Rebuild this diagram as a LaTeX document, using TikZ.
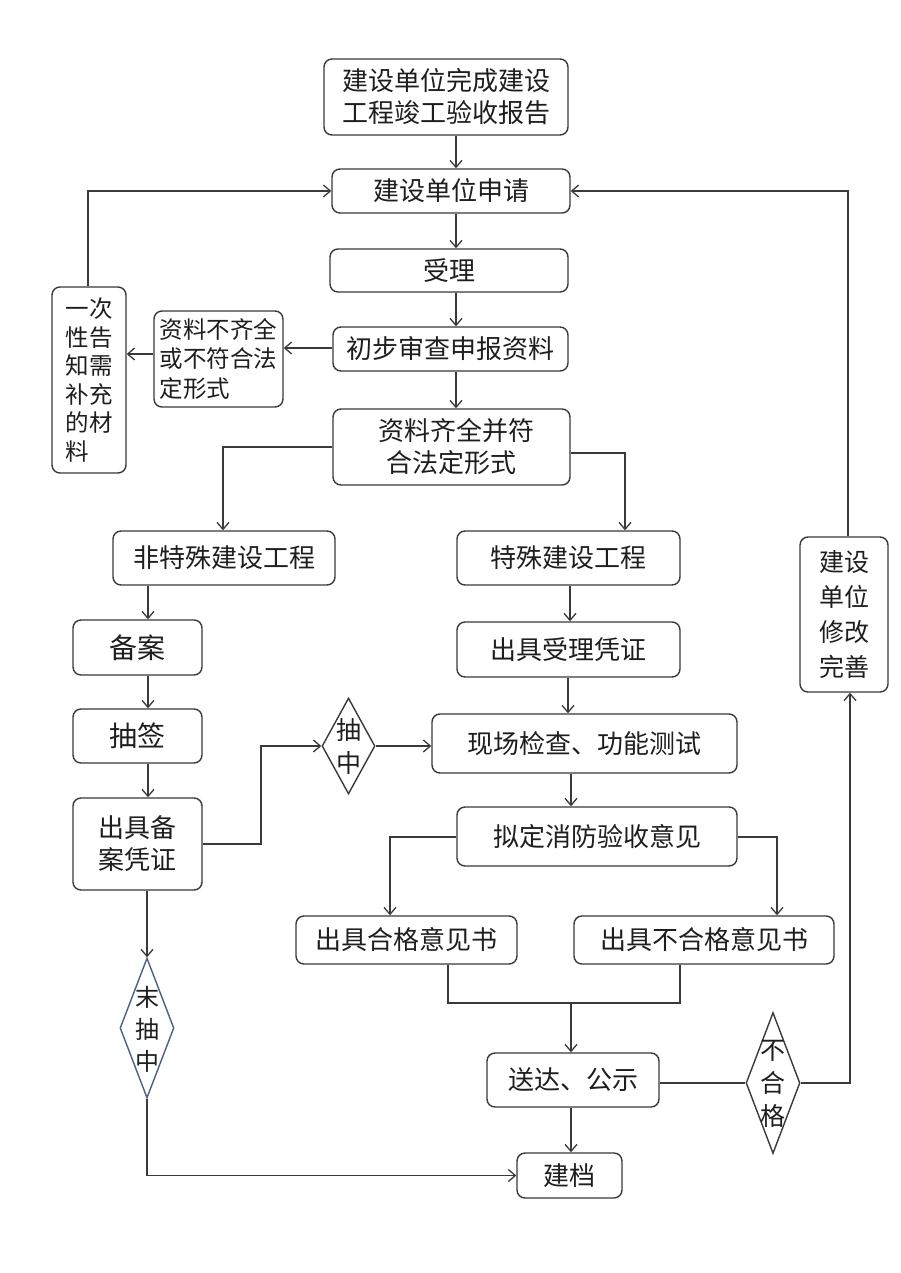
\documentclass[tikz,border=0pt]{standalone}
\usepackage{fontspec}
\newfontfamily\cjk{Noto Sans CJK SC}
\usetikzlibrary{arrows.meta,shapes.geometric}
\definecolor{linec}{HTML}{3A3A3A}
\definecolor{textc}{HTML}{1E1E1E}
\definecolor{slatec}{HTML}{4F5F7F}
\begin{document}
\begin{tikzpicture}[x=1pt,y=-1pt,
  box/.style={draw=linec, line width=1.4pt, rounded corners=8pt, inner sep=0pt,
    font=\cjk\fontsize{26}{32}\selectfont, text=textc, align=center},
  dia/.style={draw=linec, line width=1.4pt, diamond, inner sep=0pt},
  lbl/.style={inner sep=0pt, text=textc, align=center},
  conn/.style={draw=linec, line width=1.3pt},
  arr/.style={conn, -{Straight Barb[length=7pt,width=12pt,line width=1.3pt]}}]
\useasboundingbox (0,0) rectangle (900,1273);
\fill[white] (0,0) rectangle (900,1273);

% main column
\node[box, minimum width=244pt, minimum height=76pt] (top) at (446,97) {建设单位完成建设\\工程竣工验收报告};
\node[box, minimum width=238pt, minimum height=44pt] (apply) at (451,191) {建设单位申请};
\node[box, minimum width=238pt, minimum height=43pt] (accept) at (449,270.5) {受理};
\node[box, minimum width=235pt, minimum height=44pt] (review) at (450.5,349) {初步审查申报资料};
\node[box, minimum width=129pt, minimum height=96pt, align=left,
  font=\cjk\fontsize{23.5}{29.5}\selectfont] (incomplete) at (218.5,359) {资料不齐全\\或不符合法\\定形式};
\node[box, minimum width=74pt, minimum height=186pt, align=left,
  font=\cjk\fontsize{23.5}{28.5}\selectfont] (once) at (89,380) {一次\\性告\\知需\\补充\\的材\\料};
\node[box, minimum width=237pt, minimum height=76pt] (ok) at (451.5,447) {\hspace*{10pt}资料齐全并符\\合法定形式};

% left branch
\node[box, minimum width=222pt, minimum height=54pt] (nonspecial) at (224,558) {非特殊建设工程};
\node[box, minimum width=129pt, minimum height=55pt, font=\cjk\fontsize{28}{34}\selectfont] (filing) at (137.5,647.5) {备案};
\node[box, minimum width=129pt, minimum height=54pt, font=\cjk\fontsize{28}{34}\selectfont] (lottery) at (137.5,736) {抽签};
\node[box, minimum width=129pt, minimum height=92pt] (cert) at (137.5,844) {出具备\\案凭证};
\node[dia, minimum width=53pt, minimum height=96pt] (hit) at (348.5,746) {};
\node[lbl, font=\cjk\fontsize{25}{33}\selectfont] (hitt) at (hit) {抽\\中};
\node[dia, draw=slatec, minimum width=54pt, minimum height=140pt] (miss) at (147,1028) {};
\node[lbl, font=\cjk\fontsize{24}{32}\selectfont] (misst) at (147,1029) {末\\抽\\中};

% right branch
\node[box, minimum width=223pt, minimum height=54pt] (special) at (568.5,558) {特殊建设工程};
\node[box, minimum width=223pt, minimum height=55pt] (receipt) at (568.5,649.5) {出具受理凭证};
\node[box, minimum width=305pt, minimum height=59pt] (inspect) at (584.5,743.5) {现场检查、功能测试};
\node[box, minimum width=280pt, minimum height=59pt] (opinion) at (597,836.5) {拟定消防验收意见};
\node[box, minimum width=221pt, minimum height=48pt] (pass) at (406.5,940) {出具合格意见书};
\node[box, minimum width=260pt, minimum height=48pt] (fail) at (704,940) {出具不合格意见书};
\node[box, minimum width=172pt, minimum height=54pt] (deliver) at (573,1080) {送达、公示};
\node[box, minimum width=105pt, minimum height=45pt] (archive) at (569.5,1175.5) {建档};
\node[dia, minimum width=54pt, minimum height=141pt] (failD) at (773,1083) {};
\node[lbl, font=\cjk\fontsize{25}{33}\selectfont] (failDt) at (773,1084) {不\\合\\格};
\node[box, minimum width=88pt, minimum height=155pt, font=\cjk\fontsize{25}{35}\selectfont] (modify) at (844,614.5) {建设\\单位\\修改\\完善};

% connectors, main column
\draw[arr] (456,0 |- top.south) -- (456,0 |- apply.north);
\draw[arr] (456,0 |- apply.south) -- (456,0 |- accept.north);
\draw[arr] (456,0 |- accept.south) -- (456,0 |- review.north);
\draw[arr] (456,0 |- review.south) -- (456,0 |- ok.north);
\draw[arr] (review.west |- 0,348) -- (incomplete.east |- 0,348);
\draw[arr] (incomplete.west |- 0,354) -- (once.east |- 0,354);
\draw[arr] (88,0 |- once.north) |- (apply.west);
\draw[arr] (848,0 |- modify.north) |- (apply.east);

% branches from ok
\draw[arr] (ok.west |- 0,447) -| (223,0 |- nonspecial.north);
\draw[arr] (ok.east |- 0,453) -| (625,0 |- special.north);

% left column
\draw[arr] (148,0 |- nonspecial.south) -- (148,0 |- filing.north);
\draw[arr] (148,0 |- filing.south) -- (148,0 |- lottery.north);
\draw[arr] (148,0 |- lottery.south) -- (148,0 |- cert.north);
\draw[arr] (cert.east |- 0,844) -| (261,746) -- (hit.west);
\draw[arr] (hit.east) -- (inspect.west |- hit.east);
\draw[arr] (147,0 |- cert.south) -- (miss.north);
\draw[arr] (miss.south) |- (archive.west);

% right column
\draw[arr] (570,0 |- special.south) -- (570,0 |- receipt.north);
\draw[arr] (568,0 |- receipt.south) -- (568,0 |- inspect.north);
\draw[arr] (571,0 |- inspect.south) -- (571,0 |- opinion.north);
\draw[arr] (opinion.west |- 0,837) -| (390,0 |- pass.north);
\draw[arr] (opinion.east |- 0,837) -| (777,0 |- fail.north);
\coordinate (mergeL) at (448,1003);
\coordinate (mergeR) at (680,1003);
\coordinate (mergeC) at (571,1003);
\draw[conn] (448,0 |- pass.south) -- (mergeL) -- (mergeR) -- (680,0 |- fail.south);
\draw[arr] (mergeC) -- (571,0 |- deliver.north);
\draw[arr] (571,0 |- deliver.south) -- (571,0 |- archive.north);
\draw[conn] (deliver.east |- failD.west) -- (failD.west);
\draw[arr] (failD.east) -| (850,0 |- modify.south);
\end{tikzpicture}
\end{document}
